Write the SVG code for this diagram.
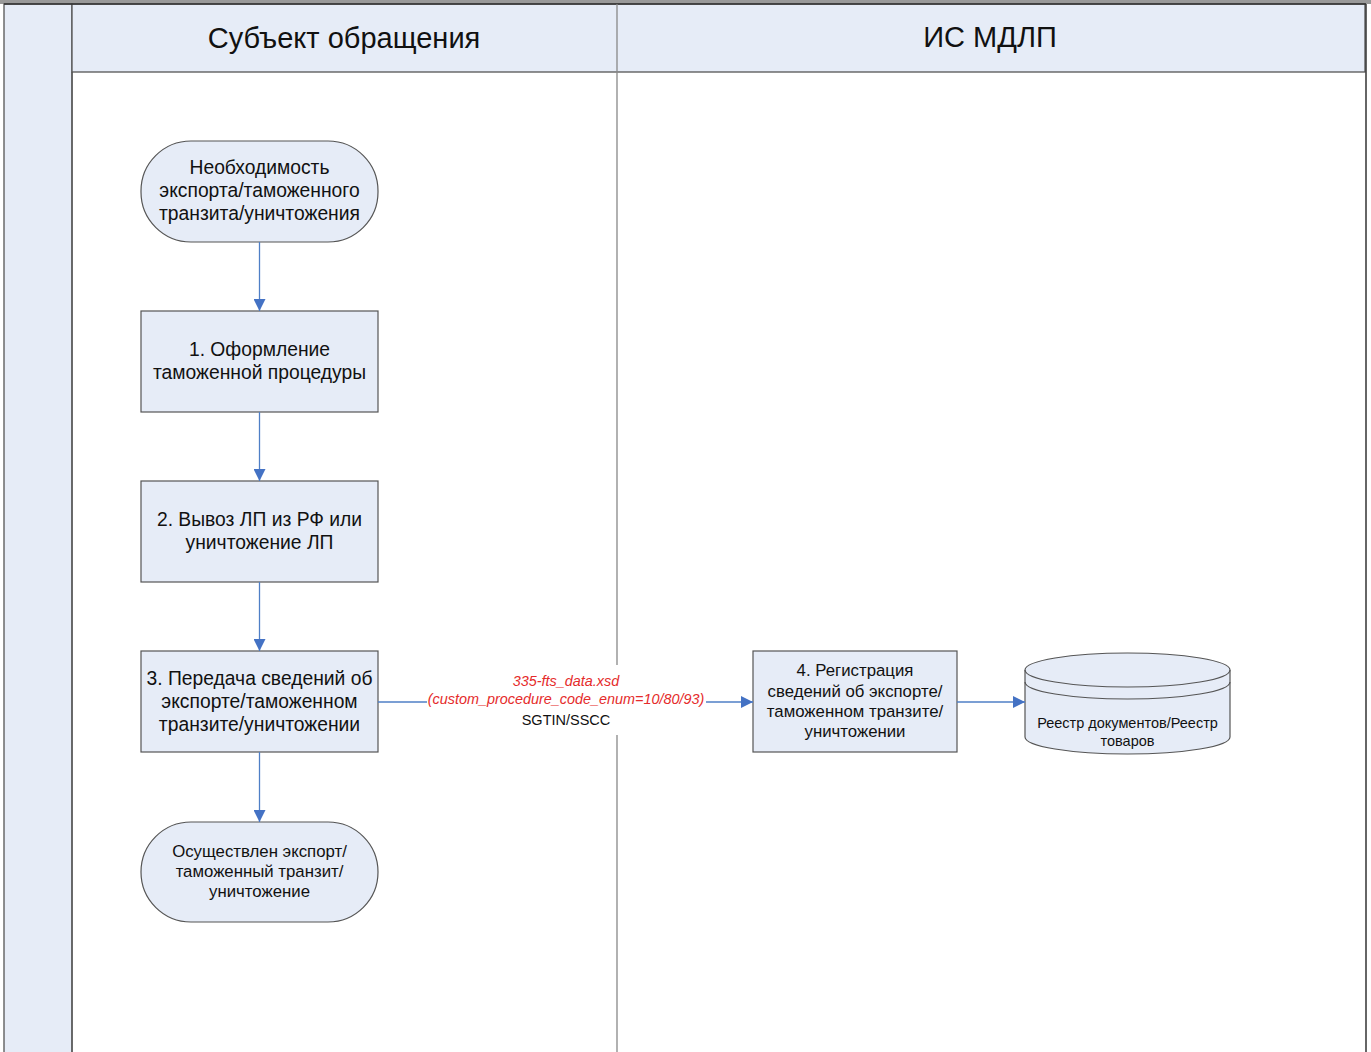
<svg xmlns="http://www.w3.org/2000/svg" width="1371" height="1052" viewBox="0 0 1371 1052">
<defs>
<marker id="arr" markerWidth="12" markerHeight="12" refX="12" refY="6" orient="auto" markerUnits="userSpaceOnUse">
<path d="M0,0 L12,6 L0,12 Z" fill="#4472C4"/>
</marker>
<style>
.lane{fill:#E6ECF7;stroke:#555;stroke-width:1.3}
.node{fill:#E6ECF7;stroke:#555;stroke-width:1.2}
.t{font-family:"Liberation Sans",Arial,sans-serif;fill:#111;text-anchor:middle}
.h{font-size:29px}
.n18{font-size:19.3px}
.n16{font-size:16.8px}
.n14{font-size:14.5px}
.lbl{font-family:"Liberation Sans",Arial,sans-serif;font-size:14.4px;text-anchor:middle;font-style:italic;fill:#E52B2B}
.c{stroke:#4F7FC6;stroke-width:1.3;fill:none;marker-end:url(#arr)}
</style>
</defs>
<rect x="0" y="0" width="1371" height="1052" fill="#fff"/>
<g id="pool">
<rect x="0" y="0" width="1371" height="4" fill="#999"/>
<rect x="4" y="4" width="68" height="1050" class="lane"/>
<rect x="72" y="4" width="1293" height="68" class="lane"/>
<line x1="4" y1="4" x2="1366" y2="4" stroke="#333" stroke-width="1.5"/>
<line x1="72" y1="72" x2="72" y2="1052" stroke="#555" stroke-width="1.3"/>
<line x1="617" y1="4" x2="617" y2="1052" stroke="#888" stroke-width="1.3"/>
<line x1="1366" y1="4" x2="1366" y2="1052" stroke="#333" stroke-width="1.5"/>
<text class="t h" x="344" y="48">Субъект обращения</text>
<text class="t h" x="990" y="47">ИС МДЛП</text>
</g>
<g id="start">
<rect x="141" y="141" width="237" height="101" rx="50" ry="50" class="node"/>
<text class="t n18" x="259.5" y="174">Необходимость</text>
<text class="t n18" x="259.5" y="197">экспорта/таможенного</text>
<text class="t n18" x="259.5" y="220">транзита/уничтожения</text>
</g>
<g id="step1">
<rect x="141" y="311" width="237" height="101" class="node"/>
<text class="t n18" x="259.5" y="356">1. Оформление</text>
<text class="t n18" x="259.5" y="379">таможенной процедуры</text>
</g>
<g id="step2">
<rect x="141" y="481" width="237" height="101" class="node"/>
<text class="t n18" x="259.5" y="526">2. Вывоз ЛП из РФ или</text>
<text class="t n18" x="259.5" y="549">уничтожение ЛП</text>
</g>
<g id="step3">
<rect x="141" y="651" width="237" height="101" class="node"/>
<text class="t n18" x="259.5" y="685">3. Передача сведений об</text>
<text class="t n18" x="259.5" y="708">экспорте/таможенном</text>
<text class="t n18" x="259.5" y="731">транзите/уничтожении</text>
</g>
<g id="end">
<rect x="141" y="822" width="237" height="100" rx="50" ry="50" class="node"/>
<text class="t n16" x="259.5" y="857">Осуществлен экспорт/</text>
<text class="t n16" x="259.5" y="877">таможенный транзит/</text>
<text class="t n16" x="259.5" y="897">уничтожение</text>
</g>
<g id="step4">
<rect x="753" y="651" width="204" height="101" class="node"/>
<text class="t n16" x="855" y="676">4. Регистрация</text>
<text class="t n16" x="855" y="697">сведений об экспорте/</text>
<text class="t n16" x="855" y="717">таможенном транзите/</text>
<text class="t n16" x="855" y="737">уничтожении</text>
</g>
<g id="registry">
<path d="M1025,670 L1025,737 A102.5,17 0 0 0 1230,737 L1230,670 A102.5,17 0 0 0 1025,670 Z" class="node"/>
<path d="M1025,670 A102.5,17 0 0 0 1230,670" fill="none" stroke="#555" stroke-width="1.2"/>
<path d="M1025,682 A102.5,17 0 0 0 1230,682" fill="none" stroke="#555" stroke-width="1.2"/>
<text class="t n14" x="1127.5" y="728">Реестр документов/Реестр</text>
<text class="t n14" x="1127.5" y="746">товаров</text>
</g>
<g id="connectors">
<line x1="259.5" y1="242" x2="259.5" y2="311" class="c"/>
<line x1="259.5" y1="412" x2="259.5" y2="481" class="c"/>
<line x1="259.5" y1="582" x2="259.5" y2="651" class="c"/>
<line x1="259.5" y1="752" x2="259.5" y2="822" class="c"/>
<line x1="378" y1="702" x2="753" y2="702" class="c"/>
<line x1="957" y1="702" x2="1025" y2="702" class="c"/>
<rect x="560" y="665" width="112" height="70" fill="#fff"/>
<rect x="427" y="693" width="279" height="14" fill="#fff"/>
<text class="lbl" x="566" y="686">335-fts_data.xsd</text>
<text class="lbl" x="566" y="704">(custom_procedure_code_enum=10/80/93)</text>
<text class="t n14" x="566" y="725">SGTIN/SSCC</text>
</g>
</svg>
